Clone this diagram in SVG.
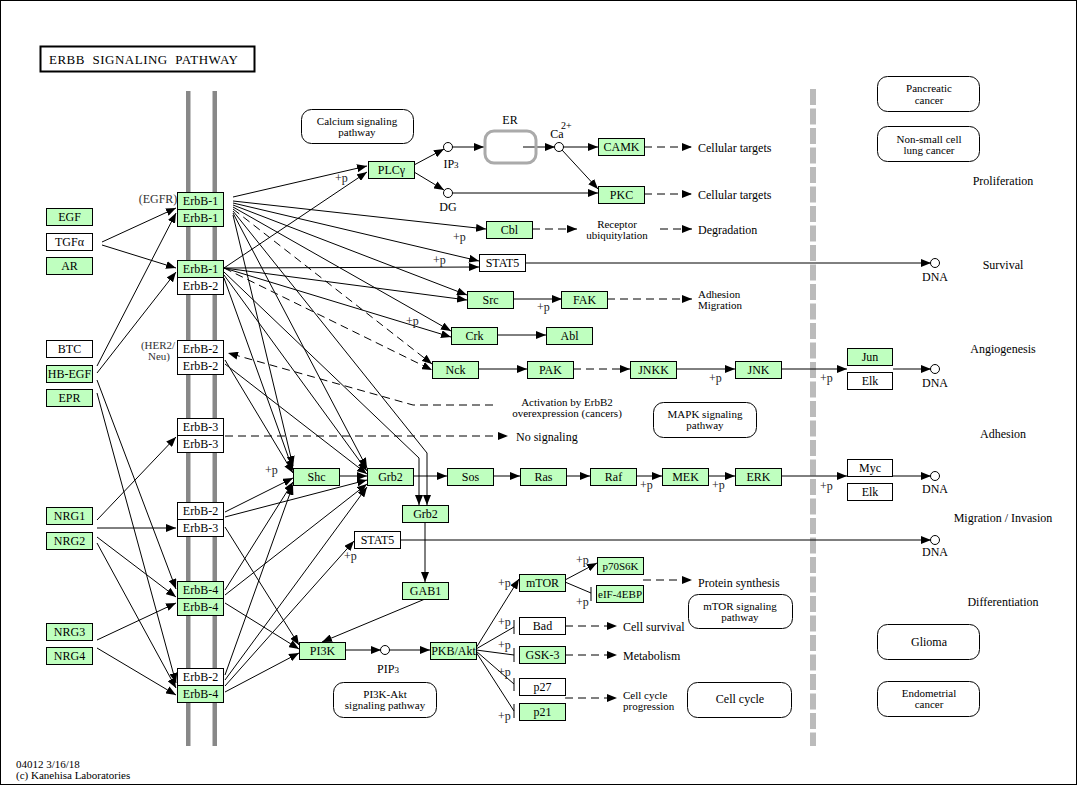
<svg xmlns="http://www.w3.org/2000/svg" width="1077" height="785" viewBox="0 0 1077 785">
<style>
text{font-family:"Liberation Serif","Times New Roman",serif;fill:#000}
.t{font-size:12px;text-anchor:middle}
.s{font-size:11px;text-anchor:middle}
.l{font-size:12px}
.l2{font-size:11px}
.c{font-size:12px;text-anchor:middle}
.c2{font-size:11px;text-anchor:middle}
.p{font-size:12px;fill:#222}
.g rect{fill:#bfffbf;stroke:#000;stroke-width:1}
.w rect{fill:#fff;stroke:#000;stroke-width:1}
rect.gn{fill:#bfffbf;stroke:#000;stroke-width:1}
rect.wn{fill:#fff;stroke:#000;stroke-width:1}
rect.rr{fill:#fff;stroke:#000;stroke-width:1}
#edges path{fill:none;stroke:#000;stroke-width:1}
#edges path.a{marker-end:url(#ah)}
#edges path.d{stroke-dasharray:8,5}
circle.cp{fill:#fff;stroke:#000;stroke-width:1}
</style>
<defs>
<marker id="ah" markerUnits="userSpaceOnUse" markerWidth="11" markerHeight="8" refX="10" refY="4" orient="auto">
<path d="M0,0 L10,4 L0,8 z" fill="#000" stroke="none"/>
</marker>
</defs>
<rect x="0.5" y="0.5" width="1076" height="784" fill="#fff" stroke="#000" stroke-width="1"/>
<g id="title"><rect x="40.5" y="46.5" width="214" height="25" fill="#fff" stroke="#000" stroke-width="2"/><text x="49" y="64" style="font-size:13px;white-space:pre" textLength="189">ERBB  SIGNALING  PATHWAY</text></g>
<g id="membrane"><rect x="186" y="91" width="4.5" height="655" fill="#888"/><rect x="212.5" y="91" width="4.5" height="655" fill="#888"/></g>
<line id="nucleus" x1="813" y1="89" x2="813" y2="746" stroke="#bbb" stroke-width="6" stroke-dasharray="16,3.5"/>
<g id="edges">
<path class="a" d="M102,242 L176,208"/>
<path class="a" d="M102,245 L176,268"/>
<path class="a" d="M97,366 L176,213"/>
<path class="a" d="M97,373 L176,272"/>
<path class="a" d="M97,380 L176,589"/>
<path class="a" d="M97,393 L176,683"/>
<path class="a" d="M97,520 L176,437"/>
<path class="a" d="M97,528 L176,528"/>
<path class="a" d="M97,537 L176,597"/>
<path class="a" d="M97,543 L176,688"/>
<path class="a" d="M97,640 L176,603"/>
<path class="a" d="M97,648 L176,695"/>
<path class="a" d="M233,197 L367,166"/>
<path class="a" d="M233,201 L486,229"/>
<path class="a" d="M233,203 L479,261"/>
<path class="a" d="M233,205 L467,295"/>
<path class="a" d="M233,207 L451,331"/>
<path class="a d" d="M233,209 L432,364"/>
<path class="a" d="M233,211 L427,453 L427,505"/>
<path class="a" d="M233,213 L367,468"/>
<path class="a" d="M233,215 L293,466"/>
<path class="a" d="M224,268 L367,172"/>
<path class="a" d="M224,268 L479,267"/>
<path class="a" d="M224,268 L467,300"/>
<path class="a" d="M224,268 L451,337"/>
<path class="a d" d="M224,268 L432,370"/>
<path class="a" d="M224,272 L419,458 L419,505"/>
<path class="a" d="M224,275 L367,471"/>
<path class="a" d="M224,278 L293,470"/>
<path class="a" d="M225,360 L293,473"/>
<path class="a" d="M225,364 L367,474"/>
<path class="a" d="M225,512 L293,478"/>
<path class="a" d="M225,517 L367,480"/>
<path class="a" d="M225,527 L299,645"/>
<path class="a" d="M225,590 L293,482"/>
<path class="a" d="M225,595 L367,484"/>
<path class="a" d="M225,603 L299,649"/>
<path class="a" d="M225,675 L293,485"/>
<path class="a" d="M225,680 L367,487"/>
<path class="a" d="M225,686 L354,541"/>
<path class="a" d="M225,692 L299,653"/>
<path class="a d" d="M493,405 L413,405 L228,353"/>
<path class="a d" d="M225,436 L508,436"/>
<path class="a" d="M414,165 L444,149"/>
<path class="a" d="M414,172 L444,190"/>
<path class="a" d="M452,147 L484,147"/>
<path class="a" d="M523,147 L555,147"/>
<path class="a" d="M563,147 L598,147"/>
<path class="a" d="M562,150 L598,189"/>
<path class="a" d="M452,193 L598,193"/>
<path class="a d" d="M644,147 L692,147"/>
<path class="a d" d="M644,194 L692,194"/>
<path class="a d" d="M532,229 L577,229"/>
<path class="a d" d="M660,229 L692,229"/>
<path class="a" d="M525,263 L931,263"/>
<path class="a" d="M513,299 L562,299"/>
<path class="a d" d="M607,299 L692,299"/>
<path class="a" d="M497,335 L546,335"/>
<path class="a" d="M478,369 L527,369"/>
<path class="a d" d="M573,369 L630,369"/>
<path class="a" d="M677,369 L735,369"/>
<path class="a" d="M782,369 L847,369"/>
<path class="a" d="M893,369 L931,369"/>
<path class="a" d="M340,476 L367,476"/>
<path class="a" d="M413,476 L447,476"/>
<path class="a" d="M493,476 L520,476"/>
<path class="a" d="M567,476 L590,476"/>
<path class="a" d="M637,476 L662,476"/>
<path class="a" d="M708,476 L735,476"/>
<path class="a" d="M782,476 L847,476"/>
<path class="a" d="M893,476 L931,476"/>
<path class="a" d="M400,540 L931,540"/>
<path class="a" d="M425,522 L425,582"/>
<path class="a" d="M425,599 L322,642"/>
<path class="a" d="M345,650 L381,650"/>
<path class="a" d="M389,650 L430,650"/>
<path class="a" d="M476,648 L519,579"/>
<path d="M476,649 L514,627 M514,620 L514,634"/>
<path d="M476,650 L514,655 M514,648 L514,662"/>
<path d="M476,651 L514,684 M514,678 L514,691"/>
<path d="M476,652 L514,711 M514,704 L514,718"/>
<path class="a" d="M565,580 L597,563"/>
<path d="M565,582 L591,593 M591,587 L591,601"/>
<path class="a d" d="M643,580 L692,580"/>
<path class="a d" d="M565,626 L617,626"/>
<path class="a d" d="M565,655 L617,655"/>
<path class="a d" d="M565,698 L617,698"/>
</g>
<g id="compounds">
<circle class="cp" cx="448" cy="147" r="4.5"/>
<circle class="cp" cx="448" cy="193" r="4.5"/>
<circle class="cp" cx="559" cy="147" r="4.5"/>
<circle class="cp" cx="385" cy="650" r="4.5"/>
<circle class="cp" cx="935" cy="263" r="4.5"/>
<circle class="cp" cx="935" cy="369" r="4.5"/>
<circle class="cp" cx="935" cy="476" r="4.5"/>
<circle class="cp" cx="935" cy="540" r="4.5"/>
<text class="c" x="451" y="168">IP<tspan style="font-size:9px">3</tspan></text>
<text class="c" x="448" y="211">DG</text>
<text class="c" x="557" y="138">Ca</text><text x="561" y="129" style="font-size:10px">2+</text>
<text class="c" x="388" y="673">PIP<tspan style="font-size:9px">3</tspan></text>
<text class="c" x="935" y="281">DNA</text>
<text class="c" x="935" y="387">DNA</text>
<text class="c" x="935" y="493">DNA</text>
<text class="c" x="935" y="556">DNA</text>
</g>
<g id="ER"><rect x="485" y="131" width="51" height="32" rx="9" fill="none" stroke="#aaa" stroke-width="3"/><text class="c" x="510" y="124">ER</text></g>
<g id="EGF" class="g"><rect x="46.5" y="208.5" width="46" height="17"/><text class="t" x="69.5" y="221">EGF</text></g>
<g id="TGFa" class="w"><rect x="46.5" y="233.5" width="46" height="17"/><text class="t" x="69.5" y="246">TGFα</text></g>
<g id="AR" class="g"><rect x="46.5" y="257.5" width="46" height="17"/><text class="t" x="69.5" y="270">AR</text></g>
<g id="BTC" class="w"><rect x="46.5" y="340.5" width="46" height="17"/><text class="t" x="69.5" y="353">BTC</text></g>
<g id="HB-EGF" class="g"><rect x="46.5" y="365.5" width="46" height="17"/><text class="t" x="69.5" y="378">HB-EGF</text></g>
<g id="EPR" class="g"><rect x="46.5" y="389.5" width="46" height="17"/><text class="t" x="69.5" y="402">EPR</text></g>
<g id="NRG1" class="g"><rect x="46.5" y="507.5" width="46" height="17"/><text class="t" x="69.5" y="520">NRG1</text></g>
<g id="NRG2" class="g"><rect x="46.5" y="532.5" width="46" height="17"/><text class="t" x="69.5" y="545">NRG2</text></g>
<g id="NRG3" class="g"><rect x="46.5" y="623.5" width="46" height="17"/><text class="t" x="69.5" y="636">NRG3</text></g>
<g id="NRG4" class="g"><rect x="46.5" y="647.5" width="46" height="17"/><text class="t" x="69.5" y="660">NRG4</text></g>
<g id="EGFR"><rect class="gn" x="177.5" y="192.5" width="46" height="17"/><rect class="gn" x="177.5" y="209.5" width="46" height="17"/><text class="t" x="200.5" y="205">ErbB-1</text><text class="t" x="200.5" y="222">ErbB-1</text><text x="158" y="203" class="t" style="fill:#333">(EGFR)</text></g>
<g id="ErbB1-2"><rect class="gn" x="177.5" y="260.5" width="46" height="17"/><rect class="wn" x="177.5" y="277.5" width="46" height="17"/><text class="t" x="200.5" y="273">ErbB-1</text><text class="t" x="200.5" y="290">ErbB-2</text></g>
<g id="HER2"><rect class="wn" x="177.5" y="340.5" width="46" height="17"/><rect class="wn" x="177.5" y="357.5" width="46" height="17"/><text class="t" x="200.5" y="353">ErbB-2</text><text class="t" x="200.5" y="370">ErbB-2</text><text class="c2" x="158" y="349" style="fill:#333">(HER2/</text><text class="c2" x="159" y="360" style="fill:#333">Neu)</text></g>
<g id="ErbB3-3"><rect class="wn" x="177.5" y="418.5" width="46" height="17"/><rect class="wn" x="177.5" y="435.5" width="46" height="17"/><text class="t" x="200.5" y="431">ErbB-3</text><text class="t" x="200.5" y="448">ErbB-3</text></g>
<g id="ErbB2-3"><rect class="wn" x="177.5" y="502.5" width="46" height="17"/><rect class="wn" x="177.5" y="519.5" width="46" height="17"/><text class="t" x="200.5" y="515">ErbB-2</text><text class="t" x="200.5" y="532">ErbB-3</text></g>
<g id="ErbB4-4"><rect class="gn" x="177.5" y="581.5" width="46" height="17"/><rect class="gn" x="177.5" y="598.5" width="46" height="17"/><text class="t" x="200.5" y="594">ErbB-4</text><text class="t" x="200.5" y="611">ErbB-4</text></g>
<g id="ErbB2-4"><rect class="wn" x="177.5" y="668.5" width="46" height="17"/><rect class="gn" x="177.5" y="685.5" width="46" height="17"/><text class="t" x="200.5" y="681">ErbB-2</text><text class="t" x="200.5" y="698">ErbB-4</text></g>
<g id="PLCg" class="g"><rect x="368.5" y="161.5" width="46" height="17"/><text class="t" x="391.5" y="174">PLCγ</text></g>
<g id="CAMK" class="g"><rect x="598.5" y="138.5" width="46" height="17"/><text class="t" x="621.5" y="151">CAMK</text></g>
<g id="PKC" class="g"><rect x="598.5" y="186.5" width="46" height="17"/><text class="t" x="621.5" y="199">PKC</text></g>
<g id="Cbl" class="g"><rect x="486.5" y="221.5" width="46" height="17"/><text class="t" x="509.5" y="234">Cbl</text></g>
<g id="STAT5a" class="w"><rect x="479.5" y="254.5" width="46" height="17"/><text class="t" x="502.5" y="267">STAT5</text></g>
<g id="Src" class="g"><rect x="467.5" y="291.5" width="46" height="17"/><text class="t" x="490.5" y="304">Src</text></g>
<g id="FAK" class="g"><rect x="561.5" y="291.5" width="46" height="17"/><text class="t" x="584.5" y="304">FAK</text></g>
<g id="Crk" class="g"><rect x="451.5" y="327.5" width="46" height="17"/><text class="t" x="474.5" y="340">Crk</text></g>
<g id="Abl" class="g"><rect x="546.5" y="327.5" width="46" height="17"/><text class="t" x="569.5" y="340">Abl</text></g>
<g id="Nck" class="g"><rect x="432.5" y="361.5" width="46" height="17"/><text class="t" x="455.5" y="374">Nck</text></g>
<g id="PAK" class="g"><rect x="527.5" y="361.5" width="46" height="17"/><text class="t" x="550.5" y="374">PAK</text></g>
<g id="JNKK" class="g"><rect x="630.5" y="361.5" width="46" height="17"/><text class="t" x="653.5" y="374">JNKK</text></g>
<g id="JNK" class="g"><rect x="735.5" y="361.5" width="46" height="17"/><text class="t" x="758.5" y="374">JNK</text></g>
<g id="Jun"><rect class="gn" x="847.5" y="348.5" width="45" height="17"/><rect class="wn" x="847.5" y="372.5" width="45" height="17"/><text class="t" x="870" y="361">Jun</text><text class="t" x="870" y="385">Elk</text></g>
<g id="Shc" class="g"><rect x="293.5" y="468.5" width="46" height="17"/><text class="t" x="316.5" y="481">Shc</text></g>
<g id="Grb2" class="g"><rect x="367.5" y="468.5" width="46" height="17"/><text class="t" x="390.5" y="481">Grb2</text></g>
<g id="Sos" class="g"><rect x="447.5" y="468.5" width="46" height="17"/><text class="t" x="470.5" y="481">Sos</text></g>
<g id="Ras" class="g"><rect x="520.5" y="468.5" width="46" height="17"/><text class="t" x="543.5" y="481">Ras</text></g>
<g id="Raf" class="g"><rect x="590.5" y="468.5" width="46" height="17"/><text class="t" x="613.5" y="481">Raf</text></g>
<g id="MEK" class="g"><rect x="662.5" y="468.5" width="46" height="17"/><text class="t" x="685.5" y="481">MEK</text></g>
<g id="ERK" class="g"><rect x="735.5" y="468.5" width="46" height="17"/><text class="t" x="758.5" y="481">ERK</text></g>
<g id="Myc"><rect class="wn" x="847.5" y="459.5" width="45" height="17"/><rect class="wn" x="847.5" y="483.5" width="45" height="17"/><text class="t" x="870" y="472">Myc</text><text class="t" x="870" y="496">Elk</text></g>
<g id="Grb2b" class="g"><rect x="402.5" y="505.5" width="46" height="17"/><text class="t" x="425.5" y="518">Grb2</text></g>
<g id="STAT5b" class="w"><rect x="354.5" y="531.5" width="46" height="17"/><text class="t" x="377.5" y="544">STAT5</text></g>
<g id="GAB1" class="g"><rect x="402.5" y="582.5" width="46" height="17"/><text class="t" x="425.5" y="595">GAB1</text></g>
<g id="PI3K" class="g"><rect x="299.5" y="642.5" width="46" height="17"/><text class="t" x="322.5" y="655">PI3K</text></g>
<g id="PKB" class="g"><rect x="430.5" y="642.5" width="46" height="17"/><text class="t" x="453.5" y="655">PKB/Akt</text></g>
<g id="mTOR" class="g"><rect x="519.5" y="574.5" width="46" height="17"/><text class="t" x="542.5" y="587">mTOR</text></g>
<g id="p70S6K" class="g"><rect x="597.5" y="557.5" width="46" height="17"/><text class="s" x="620.5" y="570">p70S6K</text></g>
<g id="eIF4EBP" class="g"><rect x="596.5" y="585.5" width="47" height="17"/><text class="s" x="620" y="598">eIF-4EBP</text></g>
<g id="Bad" class="w"><rect x="519.5" y="617.5" width="46" height="17"/><text class="t" x="542.5" y="630">Bad</text></g>
<g id="GSK3" class="g"><rect x="519.5" y="646.5" width="46" height="17"/><text class="t" x="542.5" y="659">GSK-3</text></g>
<g id="p27" class="w"><rect x="519.5" y="678.5" width="46" height="17"/><text class="t" x="542.5" y="691">p27</text></g>
<g id="p21" class="g"><rect x="519.5" y="703.5" width="46" height="17"/><text class="t" x="542.5" y="716">p21</text></g>
<g id="maps">
<rect class="rr" x="301.5" y="109.5" width="112" height="34" rx="10"/><text class="c2" x="357" y="125">Calcium signaling</text><text class="c2" x="357" y="136">pathway</text>
<rect class="rr" x="653.5" y="402.5" width="103" height="35" rx="10"/><text class="c2" x="705" y="418">MAPK signaling</text><text class="c2" x="705" y="429">pathway</text>
<rect class="rr" x="333.5" y="682.5" width="103" height="35" rx="10"/><text class="c2" x="385" y="698">PI3K-Akt</text><text class="c2" x="385" y="709">signaling pathway</text>
<rect class="rr" x="688.5" y="594.5" width="104" height="34" rx="10"/><text class="c2" x="740" y="610">mTOR signaling</text><text class="c2" x="740" y="621">pathway</text>
<rect class="rr" x="687.5" y="682.5" width="104" height="35" rx="10"/><text class="c" x="740" y="703">Cell cycle</text>
<rect class="rr" x="877.5" y="76.5" width="102" height="35" rx="10"/><text class="c2" x="929" y="92">Pancreatic</text><text class="c2" x="929" y="104">cancer</text>
<rect class="rr" x="877.5" y="126.5" width="102" height="35" rx="10"/><text class="c2" x="929" y="143">Non-small cell</text><text class="c2" x="929" y="154">lung cancer</text>
<rect class="rr" x="877.5" y="624.5" width="102" height="35" rx="10"/><text class="c" x="929" y="646">Glioma</text>
<rect class="rr" x="877.5" y="681.5" width="102" height="35" rx="10"/><text class="c2" x="929" y="697">Endometrial</text><text class="c2" x="929" y="708">cancer</text>
</g>
<g id="labels">
<text class="l" x="698" y="152">Cellular targets</text>
<text class="l" x="698" y="199">Cellular targets</text>
<text class="c2" x="617" y="228">Receptor</text>
<text class="c2" x="617" y="239">ubiquitylation</text>
<text class="l" x="698" y="234">Degradation</text>
<text class="l2" x="698" y="298">Adhesion</text>
<text class="l2" x="698" y="309">Migration</text>
<text class="c2" x="567" y="406">Activation by ErbB2</text>
<text class="c2" x="567" y="417">overexpression (cancers)</text>
<text class="l" x="516" y="441">No signaling</text>
<text class="l" x="698" y="587">Protein synthesis</text>
<text class="l" x="623" y="631">Cell survival</text>
<text class="l" x="623" y="660">Metabolism</text>
<text class="l2" x="623" y="699">Cell cycle</text>
<text class="l2" x="623" y="710">progression</text>
<text class="c" x="1003" y="185">Proliferation</text>
<text class="c" x="1003" y="269">Survival</text>
<text class="c" x="1003" y="353">Angiogenesis</text>
<text class="c" x="1003" y="438">Adhesion</text>
<text class="c" x="1003" y="522">Migration / Invasion</text>
<text class="c" x="1003" y="606">Differentiation</text>
<text class="l2" x="16" y="768">04012 3/16/18</text>
<text class="l2" x="16" y="779">(c) Kanehisa Laboratories</text>
</g>
<g id="plabels">
<text class="p" x="335" y="182">+p</text>
<text class="p" x="453" y="241">+p</text>
<text class="p" x="433" y="264">+p</text>
<text class="p" x="537" y="311">+p</text>
<text class="p" x="406" y="325">+p</text>
<text class="p" x="709" y="382">+p</text>
<text class="p" x="820" y="382">+p</text>
<text class="p" x="640" y="489">+p</text>
<text class="p" x="712" y="489">+p</text>
<text class="p" x="820" y="490">+p</text>
<text class="p" x="265" y="474">+p</text>
<text class="p" x="344" y="560">+p</text>
<text class="p" x="498" y="587">+p</text>
<text class="p" x="498" y="626">+p</text>
<text class="p" x="498" y="649">+p</text>
<text class="p" x="498" y="676">+p</text>
<text class="p" x="498" y="720">+p</text>
<text class="p" x="576" y="564">+p</text>
<text class="p" x="576" y="606">+p</text>
</g>
</svg>
